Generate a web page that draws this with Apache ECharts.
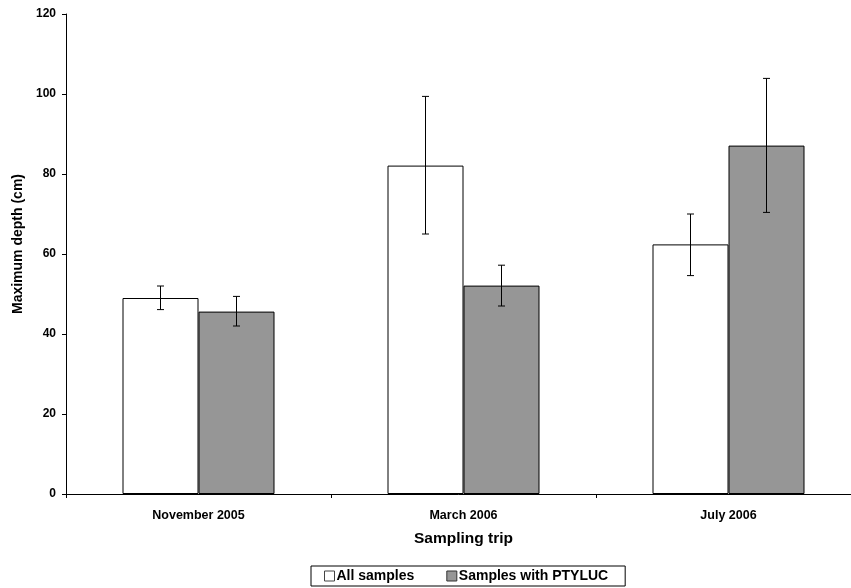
<!DOCTYPE html>
<html>
<head>
<meta charset="utf-8">
<script src="https://cdn.jsdelivr.net/npm/echarts@6/dist/echarts.min.js"></script>
<style>
  html, body { margin: 0; padding: 0; background: #fff; }
  #chart { width: 851px; height: 588px; }
</style>
</head>
<body>
<div id="chart"></div>
<script>
var categories = ['November 2005', 'March 2006', 'July 2006'];
var allSamples = [49.0, 82.1, 62.4];
var allLow = [46.1, 65.0, 54.6];
var allHigh = [52.0, 99.4, 70.0];
var ptyluc = [45.6, 52.1, 87.1];
var ptylucLow = [42.0, 47.0, 70.4];
var ptylucHigh = [49.4, 57.2, 103.9];

var barW = 76;
var font = 'Liberation Sans, Arial, sans-serif';

function errData(low, high) {
    var d = [];
    for (var i = 0; i < low.length; i++) {
        d.push([i, low[i], high[i]]);
    }
    return d;
}

// error bar with small caps, shifted onto its bar
function errRender(offset) {
    return function (params, api) {
        var lo = api.coord([api.value(0), api.value(1)]);
        var hi = api.coord([api.value(0), api.value(2)]);
        var x = lo[0] + offset;
        var cap = 3.5;
        var st = { stroke: '#000', lineWidth: 1 };
        return {
            type: 'group',
            children: [
                { type: 'line', shape: { x1: x, y1: lo[1], x2: x, y2: hi[1] }, style: st },
                { type: 'line', shape: { x1: x - cap, y1: lo[1], x2: x + cap, y2: lo[1] }, style: st },
                { type: 'line', shape: { x1: x - cap, y1: hi[1], x2: x + cap, y2: hi[1] }, style: st }
            ]
        };
    };
}

var chart = echarts.init(document.getElementById('chart'));

var option = {
    animation: false,
    textStyle: { fontFamily: font },
    // last category runs past the right edge in the original (cropped figure)
    grid: { left: 66, width: 795, top: 14, bottom: 94, outerBoundsMode: 'none', containLabel: false },
    legend: {
        bottom: 2,
        left: 311,
        padding: [3, 17, 3, 13],
        borderColor: '#000',
        borderWidth: 1,
        itemWidth: 10,
        itemHeight: 10,
        itemGap: 32,
        icon: 'rect',
        textStyle: { fontFamily: font, fontWeight: 'bold', fontSize: 14, color: '#000', padding: [0, 0, 0, -3] },
        data: [
            { name: 'All samples', itemStyle: { color: '#fff', borderColor: '#444', borderWidth: 1 } },
            { name: 'Samples with PTYLUC', itemStyle: { color: '#969696', borderColor: '#333', borderWidth: 1 } }
        ]
    },
    xAxis: {
        type: 'category',
        data: categories,
        name: 'Sampling trip',
        nameLocation: 'middle',
        nameGap: 37,
        nameTextStyle: { fontFamily: font, fontWeight: 'bold', fontSize: 15.5, color: '#000' },
        axisLine: { lineStyle: { color: '#000', width: 1 } },
        axisTick: { show: true, length: 4, lineStyle: { color: '#000' } },
        axisLabel: { fontFamily: font, fontWeight: 'bold', fontSize: 12.5, color: '#000', margin: 15 }
    },
    yAxis: {
        type: 'value',
        min: 0,
        max: 120,
        interval: 20,
        name: 'Maximum depth (cm)',
        nameLocation: 'middle',
        nameGap: 40,
        nameTextStyle: { fontFamily: font, fontWeight: 'bold', fontSize: 14, color: '#000', padding: [0, 0, 0, 20] },
        axisLine: { show: true, lineStyle: { color: '#000', width: 1 } },
        axisTick: { show: true, length: 4, lineStyle: { color: '#000' } },
        axisLabel: { fontFamily: font, fontWeight: 'bold', fontSize: 12, color: '#000', margin: 10 },
        splitLine: { show: false }
    },
    series: [
        {
            name: 'All samples',
            type: 'bar',
            data: allSamples,
            barWidth: barW,
            barGap: '0%',
            itemStyle: { color: '#fff', borderColor: '#000', borderWidth: 1 }
        },
        {
            name: 'Samples with PTYLUC',
            type: 'bar',
            data: ptyluc,
            barWidth: barW,
            barGap: '0%',
            itemStyle: { color: '#969696', borderColor: '#000', borderWidth: 1 }
        },
        {
            type: 'custom',
            renderItem: errRender(-barW / 2),
            data: errData(allLow, allHigh),
            encode: { x: 0, y: [1, 2] },
            z: 5
        },
        {
            type: 'custom',
            renderItem: errRender(barW / 2),
            data: errData(ptylucLow, ptylucHigh),
            encode: { x: 0, y: [1, 2] },
            z: 5
        }
    ]
};

chart.setOption(option);
</script>
</body>
</html>
